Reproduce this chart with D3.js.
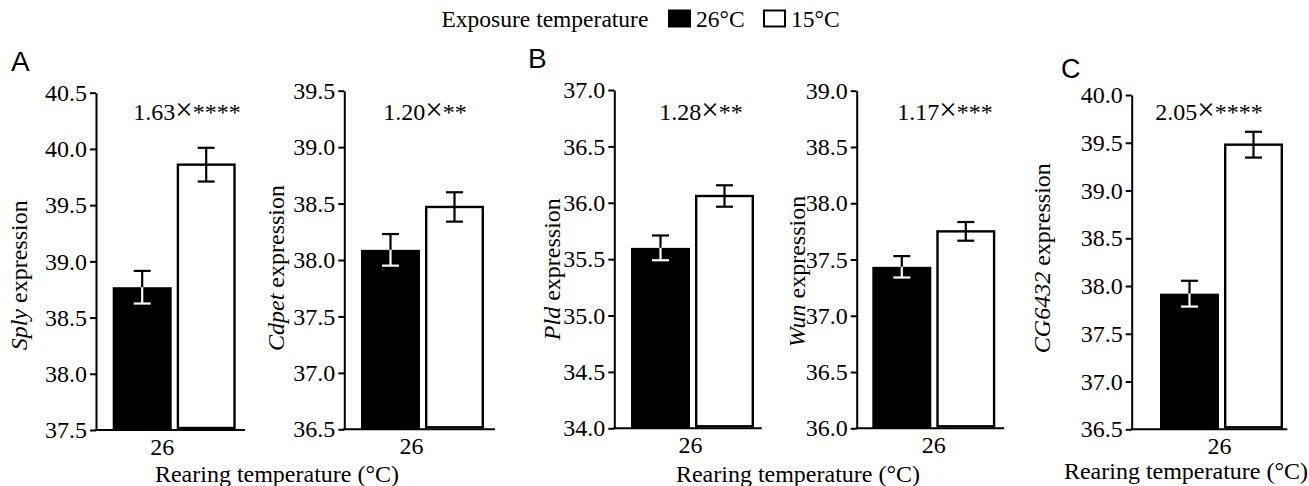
<!DOCTYPE html>
<html>
<head>
<meta charset="utf-8">
<script src="https://cdn.jsdelivr.net/npm/d3@7"></script>
<style>
  html, body { margin: 0; padding: 0; background: #fff; }
  svg { display: block; }
  text { font-family: "Liberation Serif", "Times New Roman", serif; fill: #000; }
</style>
</head>
<body>
<svg id="chart" width="1309" height="486"></svg>
<script>
// ---------------- data ----------------
const genes = ["Sply", "Cdpet", "Pld", "Wun", "CG6432"];
const exposure = ["26°C", "15°C"];
const rearing = ["26"];
const mean26 = [38.77, 38.09, 35.60, 37.435, 37.92];
const mean15 = [39.86, 38.47, 36.06, 37.75, 39.48];
const se26 = [0.145, 0.14, 0.11, 0.095, 0.135];
const se15 = [0.15, 0.13, 0.095, 0.083, 0.135];
const yMin = [37.5, 36.5, 34.0, 36.0, 36.5];
const yMax = [40.5, 39.5, 37.0, 39.0, 40.0];
const foldValues = ["1.63", "1.20", "1.28", "1.17", "2.05"];
const foldStars = ["****", "**", "**", "***", "****"];
const panelLetters = ["A", "B", "C"];
const legendTitle = "Exposure temperature";
const xTitle = "Rearing temperature (°C)";

// ---------------- layout ----------------
const layout = [
  { left: 96,    right: 245,    top: 92.7, bottom: 430,   barsStart: 112.7, labelDx: -12, annX: 187,  yLabX: 27,   yLabDy: 14 },
  { left: 344.3, right: 495,    top: 90.7, bottom: 429.3, barsStart: 361,   labelDx: -11, annX: 425,  yLabX: 284,  yLabDy: 8 },
  { left: 614.3, right: 761.7,  top: 90,   bottom: 428.3, barsStart: 631,   labelDx: -2,  annX: 701,  yLabX: 560,  yLabDy: 10 },
  { left: 856.7, right: 1004.3, top: 90.7, bottom: 428.3, barsStart: 872.3, labelDx: 0,   annX: 945,  yLabX: 805,  yLabDy: 12 },
  { left: 1131.7,right: 1287.3, top: 95,   bottom: 429.3, barsStart: 1160,  labelDx: -2,  annX: 1209, yLabX: 1050, yLabDy: -4 }
];
const fills = ["#000", "#fff"];
const FS = 24;

const svg = d3.select("#chart");

genes.forEach((gene, i) => {
  const L = layout[i];
  const g = svg.append("g");
  const y = d3.scaleLinear().domain([yMin[i], yMax[i]]).range([L.bottom, L.top]);
  const x0 = d3.scaleBand().domain(rearing).range([L.barsStart, L.barsStart + 123]).padding(0);
  const x1 = d3.scaleBand().domain(exposure).range([0, x0.bandwidth()]).paddingInner(5 / 64).paddingOuter(0);

  const vals = [
    { s: exposure[0], m: mean26[i], e: se26[i] },
    { s: exposure[1], m: mean15[i], e: se15[i] }
  ];

  // bars
  const grp = g.append("g").attr("transform", `translate(${x0(rearing[0])},0)`);
  vals.forEach((d, k) => {
    const bx = x1(d.s), bw = x1.bandwidth();
    if (k === 0) {
      grp.append("rect").attr("x", bx).attr("y", y(d.m)).attr("width", bw)
        .attr("height", y(yMin[i]) - y(d.m)).attr("fill", "#000");
    } else {
      grp.append("rect").attr("x", bx + 1.2).attr("y", y(d.m)).attr("width", bw - 2.4)
        .attr("height", y(yMin[i]) - y(d.m) - 2).attr("fill", "#fff")
        .attr("stroke", "#000").attr("stroke-width", 2.4);
    }
    const cx = bx + bw / 2;
    const upCol = "#000", downCol = k === 0 ? "#fff" : "#000";
    grp.append("line").attr("x1", cx).attr("x2", cx).attr("y1", y(d.m)).attr("y2", y(d.m + d.e))
      .attr("stroke", upCol).attr("stroke-width", 2.2);
    grp.append("line").attr("x1", cx - 8.5).attr("x2", cx + 8.5).attr("y1", y(d.m + d.e)).attr("y2", y(d.m + d.e))
      .attr("stroke", upCol).attr("stroke-width", 2.2);
    grp.append("line").attr("x1", cx).attr("x2", cx).attr("y1", y(d.m)).attr("y2", y(d.m - d.e))
      .attr("stroke", downCol).attr("stroke-width", 2.2);
    grp.append("line").attr("x1", cx - 8.5).attr("x2", cx + 8.5).attr("y1", y(d.m - d.e)).attr("y2", y(d.m - d.e))
      .attr("stroke", downCol).attr("stroke-width", 2.2);
  });

  // y axis
  const ticks = d3.range(yMin[i], yMax[i] + 0.001, 0.5);
  const yAxis = g.append("g").attr("transform", `translate(${L.left},0)`)
    .call(d3.axisLeft(y).tickValues(ticks).tickFormat(d3.format(".1f")).tickSize(6).tickPadding(3).tickSizeOuter(0));
  yAxis.attr("font-family", null);
  yAxis.select(".domain").attr("stroke", "#000").attr("stroke-width", 2);
  yAxis.selectAll(".tick line").attr("stroke", "#000").attr("stroke-width", 2);
  yAxis.selectAll(".tick text").attr("font-size", FS).attr("fill", "#000");

  // x axis line
  g.append("line").attr("x1", L.left - 1).attr("x2", L.right).attr("y1", L.bottom).attr("y2", L.bottom)
    .attr("stroke", "#000").attr("stroke-width", 2);
  // x tick label
  g.append("text").attr("x", x0(rearing[0]) + x0.bandwidth() / 2 + L.labelDx).attr("y", L.bottom + 25)
    .attr("text-anchor", "middle").attr("font-size", FS).text(rearing[0]);

  // fold-change annotation
  const ann = g.append("text").attr("x", L.annX).attr("y", 120).attr("text-anchor", "middle")
    .attr("font-size", FS);
  ann.append("tspan").text(foldValues[i]);
  ann.append("tspan").attr("font-size", 31).attr("font-weight", 300).text("×");
  ann.append("tspan").text(foldStars[i]);

  // y label
  const yl = g.append("text").attr("transform", `translate(${L.yLabX},${(L.top + L.bottom) / 2 + L.yLabDy}) rotate(-90)`)
    .attr("text-anchor", "middle").attr("font-size", FS);
  yl.append("tspan").attr("font-style", "italic").text(gene);
  yl.append("tspan").text(" expression");
});

// x titles
[[277, 482], [798, 482], [1186, 479]].forEach(([xx, yy]) => {
  svg.append("text").attr("x", xx).attr("y", yy).attr("text-anchor", "middle").attr("font-size", FS).text(xTitle);
});

// panel letters
[[11, 71, 28], [528, 68, 28], [1061, 78, 27]].forEach(([xx, yy, fs], k) => {
  svg.append("text").attr("x", xx).attr("y", yy).attr("font-size", fs)
    .style("font-family", "'Liberation Sans', Arial, sans-serif").text(panelLetters[k]);
});

// legend
const lg = svg.append("g");
lg.append("text").attr("x", 441.5).attr("y", 27).attr("font-size", 23.5).text(legendTitle);
const legX = [[668, 696], [763, 791]];
exposure.forEach((s, k) => {
  lg.append("rect").attr("x", legX[k][0] + 1).attr("y", 10.5).attr("width", 21).attr("height", 16)
    .attr("fill", fills[k]).attr("stroke", "#000").attr("stroke-width", 2);
  lg.append("text").attr("x", legX[k][1]).attr("y", 27).attr("font-size", 23.5).text(s);
});
</script>
</body>
</html>
